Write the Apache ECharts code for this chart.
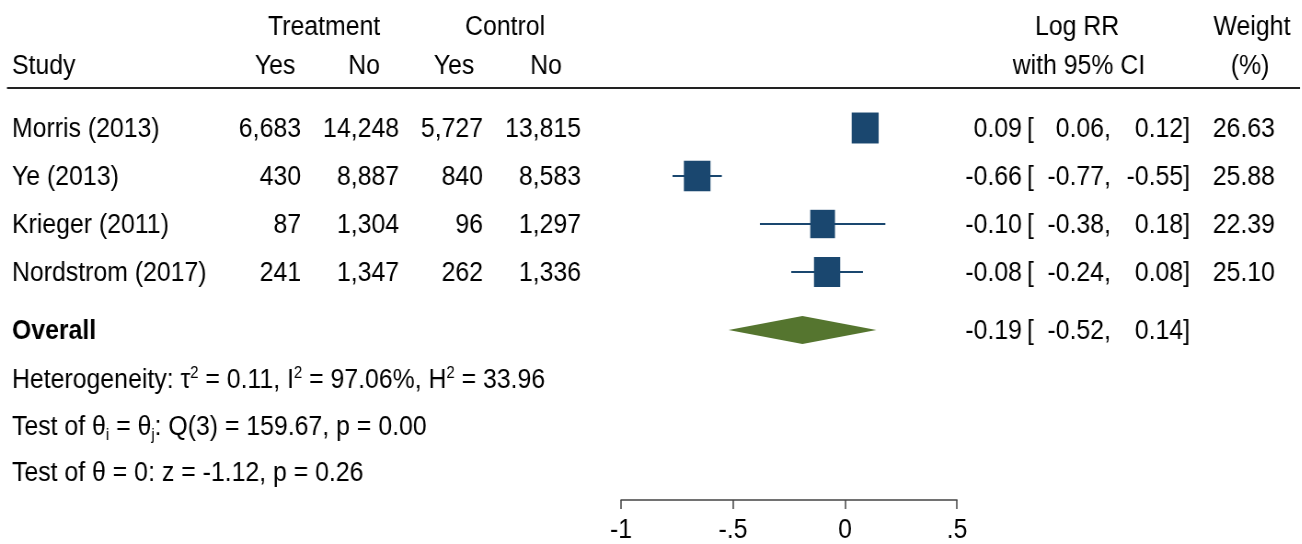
<!DOCTYPE html>
<html>
<head>
<meta charset="utf-8">
<script src="https://cdn.jsdelivr.net/npm/echarts@6/dist/echarts.min.js"></script>
<style>
  html, body { margin: 0; padding: 0; background: #fff; }
  #wrap { width: 1302px; height: 544px; overflow: hidden; }
  #chart { height: 544px; transform-origin: 0 0; }
</style>
</head>
<body>
<div id="wrap"><div id="chart"></div></div>
<script>
// ---- study data ----
const studies   = ['Morris (2013)', 'Ye (2013)', 'Krieger (2011)', 'Nordstrom (2017)'];
const treatYes  = [6683, 430, 87, 241];
const treatNo   = [14248, 8887, 1304, 1347];
const ctrlYes   = [5727, 840, 96, 262];
const ctrlNo    = [13815, 8583, 1297, 1336];
const logRR     = [0.09, -0.66, -0.10, -0.08];
const ciLow     = [0.06, -0.77, -0.38, -0.24];
const ciHigh    = [0.12, -0.55, 0.18, 0.08];
const weights   = [26.63, 25.88, 22.39, 25.10];

// pooled estimate: [effect, lower, upper]
const overallEst = [-0.19, -0.52, 0.14];

// heterogeneity and tests
const tau2 = 0.11, iSq = 97.06, hSq = 33.96;
const qDf = 3, qStat = 159.67, qP = 0.00;
const zStat = -1.12, zP = 0.26;

// x axis ticks
const xTicks = [-1, -0.5, 0, 0.5];
const xTickLabels = ['-1', '-.5', '0', '.5'];

// ---- layout ----
// The canvas is drawn wider and condensed horizontally by S, so horizontal
// positions below are given in page pixels and converted with px().
const S = 0.92;
const W = 1302 / S;
const px = x => x / S;

const FONT = '"Liberation Sans", Arial, Helvetica, sans-serif';
const FS = 27;
const NAVY = '#1a476f';
const GREEN = '#55752f';
const OVERALL_ROW = 5.21;

const chartEl = document.getElementById('chart');
chartEl.style.width = W + 'px';
chartEl.style.transform = 'scaleX(' + S + ')';
const chart = echarts.init(chartEl, null, { renderer: 'canvas', width: W, height: 544 });

const fmtInt = n => String(n).replace(/\B(?=(\d{3})+(?!\d))/g, ',');
const f2 = v => v.toFixed(2);

function txt(text, x, y, align, extra) {
  return {
    type: 'text',
    style: Object.assign({
      text: text, x: x, y: y,
      align: align, textAlign: align,
      verticalAlign: 'middle', textVerticalAlign: 'middle',
      fontFamily: FONT, fontSize: FS, fill: '#000'
    }, extra || {})
  };
}

// text cells of one table row (estimate + CI columns)
function estCells(es, lo, hi, y) {
  return [
    txt(f2(es), px(1022), y, 'right'),
    txt('[', px(1027), y, 'left'),
    txt(f2(lo) + ',', px(1111), y, 'right'),
    txt(f2(hi) + ']', px(1190), y, 'right')
  ];
}

const tableData = studies.map((s, i) => [i, i + 1]);
const markerData = studies.map((s, i) => [logRR[i], ciLow[i], ciHigh[i], i + 1, weights[i]]);
const diamondData = [[overallEst[0], overallEst[1], overallEst[2], OVERALL_ROW]];

const supStyle = { fontFamily: FONT, fontSize: 16, verticalAlign: 'top', lineHeight: 30 };
const subStyle = { fontFamily: FONT, fontSize: 16, verticalAlign: 'bottom', lineHeight: 22 };
const baseRich = { fontFamily: FONT, fontSize: FS, lineHeight: 31, fill: '#000' };

function richLine(text, y) {
  return {
    type: 'text',
    style: Object.assign({
      text: text, x: px(12), y: y,
      align: 'left', verticalAlign: 'middle', textVerticalAlign: 'middle',
      rich: { sup: supStyle, sub: subStyle }
    }, baseRich)
  };
}

const option = {
  animation: false,
  backgroundColor: '#fff',
  grid: { left: px(621), width: px(957) - px(621), top: 80, bottom: 44, containLabel: false },
  xAxis: {
    type: 'value', min: -1, max: 0.5, interval: 0.5,
    splitLine: { show: false },
    axisLine: { show: true, onZero: false, lineStyle: { color: '#444', width: 1.5 } },
    axisTick: { show: true, length: 9, lineStyle: { color: '#444', width: 1.5 } },
    axisLabel: {
      margin: 17, color: '#000', fontFamily: FONT, fontSize: FS,
      formatter: v => {
        const k = xTicks.findIndex(t => Math.abs(t - v) < 1e-9);
        return k >= 0 ? xTickLabels[k] : '';
      }
    }
  },
  yAxis: { type: 'value', min: 0, max: 8.75, inverse: true, show: false },
  graphic: [
    // column headers
    txt('Treatment', px(324), 28, 'center'),
    txt('Control', px(505), 28, 'center'),
    txt('Log RR', px(1077), 28, 'center'),
    txt('Weight', px(1252), 28, 'center'),
    txt('Study', px(12), 67, 'left'),
    txt('Yes', px(275), 67, 'center'),
    txt('No', px(364), 67, 'center'),
    txt('Yes', px(454), 67, 'center'),
    txt('No', px(546), 67, 'center'),
    txt('with 95% CI', px(1079), 67, 'center'),
    txt('(%)', px(1250), 67, 'center'),
    {
      type: 'line',
      shape: { x1: px(7), y1: 88, x2: px(1300), y2: 88 },
      style: { stroke: '#222', lineWidth: 2.2 }
    },
    // summary statistics
    richLine('Heterogeneity: τ{sup|2} = ' + f2(tau2) + ', I{sup|2} = ' + f2(iSq) + '%, H{sup|2} = ' + f2(hSq), 381),
    richLine('Test of θ{sub|i} = θ{sub|j}: Q(' + qDf + ') = ' + f2(qStat) + ', p = ' + f2(qP), 428),
    richLine('Test of θ = 0: z = ' + f2(zStat) + ', p = ' + f2(zP), 474)
  ],
  series: [
    {
      // study table rows
      type: 'custom',
      clip: false,
      data: tableData,
      renderItem: (params, api) => {
        const i = api.value(0);
        const y = api.coord([0, api.value(1)])[1] + 2;
        return {
          type: 'group',
          children: [
            txt(studies[i], px(12), y, 'left'),
            txt(fmtInt(treatYes[i]), px(301), y, 'right'),
            txt(fmtInt(treatNo[i]), px(399), y, 'right'),
            txt(fmtInt(ctrlYes[i]), px(483), y, 'right'),
            txt(fmtInt(ctrlNo[i]), px(581), y, 'right'),
            ...estCells(logRR[i], ciLow[i], ciHigh[i], y),
            txt(f2(weights[i]), px(1275), y, 'right')
          ]
        };
      }
    },
    {
      // overall row text
      type: 'custom',
      clip: false,
      data: diamondData,
      renderItem: (params, api) => {
        const y = api.coord([0, api.value(3)])[1] + 1;
        return {
          type: 'group',
          children: [
            txt('Overall', px(12), y, 'left', { fontWeight: 'bold' }),
            ...estCells(api.value(0), api.value(1), api.value(2), y)
          ]
        };
      }
    },
    {
      // confidence intervals and weight-scaled squares
      type: 'custom',
      clip: false,
      data: markerData,
      renderItem: (params, api) => {
        const row = api.value(3);
        const c = api.coord([api.value(0), row]);
        const lo = api.coord([api.value(1), row]);
        const hi = api.coord([api.value(2), row]);
        const k = Math.sqrt(api.value(4));
        const w = k * px(5.23), h = k * 6.0;
        return {
          type: 'group',
          children: [
            { type: 'line', shape: { x1: lo[0], y1: lo[1], x2: hi[0], y2: hi[1] }, style: { stroke: NAVY, lineWidth: 2.2 } },
            { type: 'rect', shape: { x: c[0] - w / 2, y: c[1] - h / 2, width: w, height: h }, style: { fill: NAVY } }
          ]
        };
      }
    },
    {
      // pooled estimate diamond
      type: 'custom',
      clip: false,
      data: diamondData,
      renderItem: (params, api) => {
        const row = api.value(3);
        const c = api.coord([api.value(0), row]);
        const lo = api.coord([api.value(1), row]);
        const hi = api.coord([api.value(2), row]);
        const hh = 14;
        return {
          type: 'polygon',
          shape: { points: [[lo[0], c[1]], [c[0], c[1] - hh], [hi[0], c[1]], [c[0], c[1] + hh]] },
          style: { fill: GREEN }
        };
      }
    }
  ]
};

chart.setOption(option);
</script>
</body>
</html>
